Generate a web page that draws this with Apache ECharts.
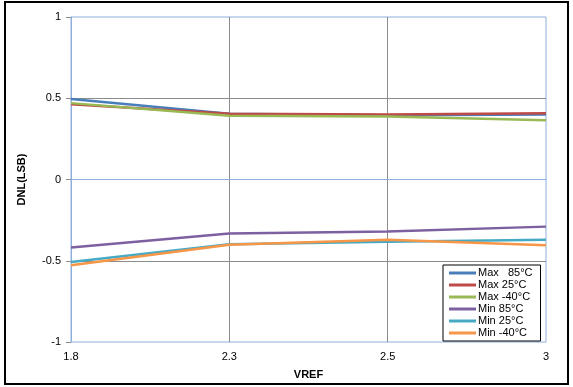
<!DOCTYPE html>
<html>
<head>
<meta charset="utf-8">
<script src="https://cdn.jsdelivr.net/npm/echarts@6/dist/echarts.min.js"></script>
<style>
  html, body { margin: 0; padding: 0; background: #fff; }
  #chart { width: 573px; height: 387px; }
</style>
</head>
<body>
<div id="chart"></div>
<script>
// VREF points (evenly spaced on the original chart)
var vref = ['1.8', '2.3', '2.5', '3'];

var max85 = [0.495, 0.405, 0.395, 0.400];
var max25 = [0.463, 0.405, 0.400, 0.408];
var maxM40 = [0.470, 0.393, 0.387, 0.365];
var min85 = [-0.418, -0.332, -0.320, -0.290];
var min25 = [-0.508, -0.398, -0.383, -0.371];
var minM40 = [-0.527, -0.402, -0.371, -0.404];

var seriesNames = ['Max   85°C', 'Max 25°C', 'Max -40°C', 'Min 85°C', 'Min 25°C', 'Min -40°C'];
var seriesData = [max85, max25, maxM40, min85, min25, minM40];
var colors = ['#4a7ebb', '#be4b48', '#98b954', '#7d60a0', '#46aac5', '#f79646'];

var chart = echarts.init(document.getElementById('chart'));

var series = seriesData.map(function (d, i) {
    return {
        name: seriesNames[i],
        type: 'line',
        data: d,
        symbol: 'none',
        lineStyle: { width: 2.5, color: colors[i] },
        itemStyle: { color: colors[i] }
    };
});

var option = {
    animation: false,
    textStyle: { fontFamily: 'Liberation Sans, Arial, sans-serif' },
    grid: {
        left: 71, right: 27, top: 17, bottom: 45,
        show: true, borderColor: '#8eaedb', borderWidth: 1
    },
    legend: {
        orient: 'vertical',
        left: 443, top: 265,
        padding: [2, 8, 2, 6],
        backgroundColor: '#fff',
        borderColor: '#000',
        borderWidth: 1,
        itemWidth: 27,
        itemHeight: 3,
        itemGap: 0,
        icon: 'rect',
        textStyle: { fontSize: 11, lineHeight: 12, color: '#000', padding: [0, 0, 0, -3] },
        data: seriesNames
    },
    xAxis: {
        type: 'category',
        data: vref,
        boundaryGap: false,
        name: 'VREF',
        nameLocation: 'middle',
        nameGap: 27,
        nameTextStyle: { fontWeight: 'bold', fontSize: 11, color: '#000' },
        axisLine: { lineStyle: { color: '#8eaedb' } },
        axisTick: { show: false },
        axisLabel: { fontSize: 11, color: '#000', margin: 9 },
        splitLine: {
            show: true, showMinLine: false, showMaxLine: false,
            lineStyle: { color: '#8c8c8c', width: 1 }
        }
    },
    yAxis: {
        type: 'value',
        min: -1, max: 1, interval: 0.5,
        name: 'DNL(LSB)',
        nameLocation: 'middle',
        nameGap: 44,
        nameTextStyle: { fontWeight: 'bold', fontSize: 11, color: '#000' },
        axisLine: { show: true, lineStyle: { color: '#8eaedb' } },
        axisTick: { show: true, length: 5, lineStyle: { color: '#8c8c8c' } },
        axisLabel: { fontSize: 11, color: '#000', margin: 10 },
        splitLine: {
            show: true, showMinLine: false, showMaxLine: false,
            lineStyle: { color: '#8c8c8c', width: 1 }
        }
    },
    graphic: [{
        type: 'rect',
        shape: { x: 5, y: 2, width: 563, height: 382 },
        style: { fill: 'none', stroke: '#000', lineWidth: 2 },
        silent: true
    }],
    series: series
};

chart.setOption(option);
</script>
</body>
</html>
